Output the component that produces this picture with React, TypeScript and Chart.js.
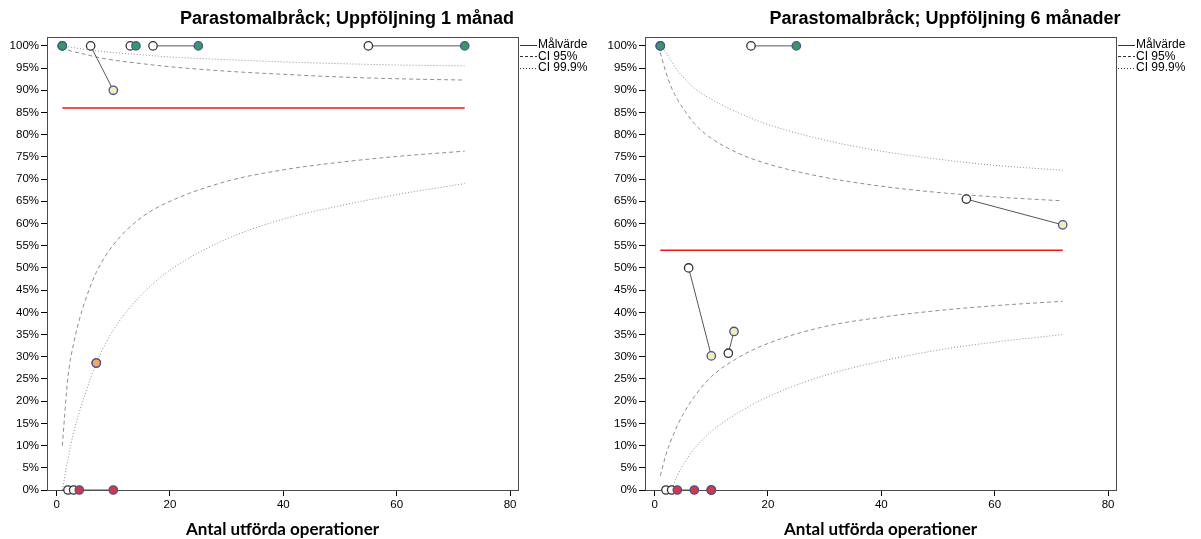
import React, { useEffect, useRef } from "react";
import { Chart, registerables } from "chart.js";

Chart.register(...registerables);

const FONT = "'Liberation Sans', Arial, sans-serif";

const chartTitles = ["Parastomalbråck; Uppföljning 1 månad", "Parastomalbråck; Uppföljning 6 månader"];
const xAxisTitle = "Antal utförda operationer";
const legendLabels = ["Målvärde", "CI 95%", "CI 99.9%"];
const xTickValues = [0, 20, 40, 60, 80];
const yTickValues = [0, 5, 10, 15, 20, 25, 30, 35, 40, 45, 50, 55, 60, 65, 70, 75, 80, 85, 90, 95, 100];

// CI curve sample points (number of operations)
const ciN = [1, 2, 3, 4, 5, 7, 10, 15, 20, 30, 40, 50, 60, 72];
const targetN = [1, 72];

// ---- 1 month ----
const m1Target = 86;
const m1Lower95 = [10, 25.5, 33, 38.3, 42.5, 49, 55.2, 61.4, 65, 69.5, 72.1, 73.8, 75.1, 76.3];
const m1Upper95 = [100, 99.1, 98.7, 98.4, 98.1, 97.5, 96.8, 96, 95.3, 94.3, 93.6, 93, 92.6, 92.3];
const m1Lower999N = [1, 2, 3, 4, 5, 7, 10, 15, 20, 30, 40, 50, 60, 72];
const m1Lower999 = [0, 7, 13, 17.5, 21.5, 28.6, 36, 44, 49.5, 56.5, 61, 64, 66.5, 69];
const m1Upper999 = [100, 99.8, 99.6, 99.4, 99.2, 98.9, 98.5, 98, 97.5, 96.9, 96.4, 96, 95.7, 95.5];
const m1PrevN = [1, 6, 13, 17, 55, 7, 2, 3];
const m1PrevY = [100, 100, 100, 100, 100, 28.6, 0, 0];
const m1CurN = [1, 10, 14, 25, 72, 7, 4, 10];
const m1CurY = [100, 90, 100, 100, 100, 28.6, 0, 0];
const m1Status = ["green", "yellow", "green", "green", "green", "orange", "red", "red"];

// ---- 6 months ----
const m6Target = 54;
const m6Lower95 = [3.2, 8, 11.5, 14.5, 17, 21, 25.5, 30, 33, 36.8, 38.9, 40.4, 41.5, 42.5];
const m6Upper95 = [98.5, 94, 90.5, 88, 86, 82.5, 79.2, 75.7, 73.4, 70.4, 68.4, 67, 66, 65.1];
const m6Lower999N = [3, 4, 5, 7, 10, 15, 20, 30, 40, 50, 60, 72];
const m6Lower999 = [0.3, 3.2, 5.6, 9.3, 13.2, 17.6, 21, 25.8, 29, 31.5, 33.3, 35];
const m6Upper999 = [100, 98.5, 96.5, 94.5, 93, 90.5, 88, 84.8, 82.3, 78.8, 76.3, 74.5, 73.1, 72];
const m6PrevN = [1, 17, 55, 6, 13, 2, 3, 10];
const m6PrevY = [100, 100, 65.5, 50, 30.8, 0, 0, 0];
const m6CurN = [1, 25, 72, 10, 14, 4, 7, 10];
const m6CurY = [100, 100, 59.7, 30.2, 35.7, 0, 0, 0];
const m6Status = ["green", "green", "yellow", "yellow", "yellow", "red", "red", "red"];

const statusFill: Record<string, string> = {
  green: "#349a63",
  yellow: "#f3efb0",
  orange: "#f3a955",
  red: "#d23a3f",
};

type Cfg = {
  title: string;
  target: number;
  lower95: number[];
  upper95: number[];
  lower999N: number[];
  lower999: number[];
  upper999: number[];
  prevN: number[];
  prevY: number[];
  curN: number[];
  curY: number[];
  status: string[];
};

const configs: Cfg[] = [
  {
    title: chartTitles[0], target: m1Target, lower95: m1Lower95, upper95: m1Upper95,
    lower999N: m1Lower999N, lower999: m1Lower999, upper999: m1Upper999,
    prevN: m1PrevN, prevY: m1PrevY, curN: m1CurN, curY: m1CurY, status: m1Status,
  },
  {
    title: chartTitles[1], target: m6Target, lower95: m6Lower95, upper95: m6Upper95,
    lower999N: m6Lower999N, lower999: m6Lower999, upper999: m6Upper999,
    prevN: m6PrevN, prevY: m6PrevY, curN: m6CurN, curY: m6CurY, status: m6Status,
  },
];

const pts = (xs: number[], ys: number[]) => xs.map((x, i) => ({ x, y: ys[i] }));

function makePlugins(title: string) {
  return [
    {
      id: "frame",
      beforeDatasetsDraw(chart: any) {
        const { ctx, chartArea: a } = chart;
        ctx.save();
        ctx.strokeStyle = "#4a4a4a";
        ctx.lineWidth = 1;
        ctx.strokeRect(Math.round(a.left) + 0.5, Math.round(a.top) + 0.5, Math.round(a.right - a.left), Math.round(a.bottom - a.top));
        ctx.restore();
      },
    },
    {
      id: "titleAndLegend",
      afterDraw(chart: any) {
        const { ctx, chartArea: a } = chart;
        ctx.save();
        ctx.fillStyle = "#000";
        ctx.font = `bold 18px ${FONT}`;
        ctx.textAlign = "center";
        ctx.textBaseline = "middle";
        ctx.fillText(title, 347, 19);

        const dashes = [[], [3, 2], [1, 2]];
        const rowsY = [44.5, 56, 67.5];
        const x0 = a.right + 2;
        ctx.font = `12px ${FONT}`;
        ctx.textAlign = "left";
        legendLabels.forEach((lbl, i) => {
          ctx.beginPath();
          ctx.setLineDash(dashes[i]);
          ctx.strokeStyle = "#333";
          ctx.lineWidth = 1;
          ctx.moveTo(x0, Math.round(rowsY[i]) + 0.5);
          ctx.lineTo(x0 + 17, Math.round(rowsY[i]) + 0.5);
          ctx.stroke();
          ctx.setLineDash([]);
          ctx.fillStyle = "#000";
          ctx.fillText(lbl, x0 + 18, rowsY[i] + 0.5);
        });
        ctx.restore();
      },
    },
  ];
}

function FunnelChart({ cfg, left }: { cfg: Cfg; left: number }) {
  const ref = useRef<HTMLCanvasElement>(null);
  useEffect(() => {
    if (!ref.current) return;
    const ciStyle = {
      borderColor: "#8e8e8e",
      borderWidth: 1,
      pointRadius: 0,
      showLine: true,
      cubicInterpolationMode: "monotone" as const,
      order: 6,
    };
    const datasets: any[] = [
      { ...ciStyle, data: pts(ciN, cfg.lower95), borderDash: [4, 3] },
      { ...ciStyle, data: pts(ciN, cfg.upper95), borderDash: [4, 3] },
      { ...ciStyle, data: pts(cfg.lower999N, cfg.lower999), borderDash: [1, 2] },
      { ...ciStyle, data: pts(ciN, cfg.upper999), borderDash: [1, 2] },
      {
        data: pts(targetN, targetN.map(() => cfg.target)),
        borderColor: "#f2161b",
        borderWidth: 1.6,
        pointRadius: 0,
        showLine: true,
        order: 5,
      },
    ];
    cfg.prevN.forEach((n, i) => {
      datasets.push({
        data: [{ x: n, y: cfg.prevY[i] }, { x: cfg.curN[i], y: cfg.curY[i] }],
        borderColor: "#555",
        borderWidth: 1,
        pointRadius: 0,
        showLine: true,
        order: 4,
        clip: false,
      });
    });
    datasets.push({
      data: pts(cfg.prevN, cfg.prevY),
      backgroundColor: "#ffffff",
      borderColor: "#333",
      borderWidth: 1.3,
      pointRadius: 4.2,
      showLine: false,
      order: 3,
      clip: false,
    });
    datasets.push({
      data: pts(cfg.curN, cfg.curY),
      backgroundColor: cfg.status.map((s) => statusFill[s]),
      borderColor: "#4d4f9e",
      borderWidth: 1.3,
      pointRadius: 4.2,
      showLine: false,
      order: 2,
      clip: false,
    });

    const tickFont = { family: FONT, size: 11.5 };
    const chart = new Chart(ref.current, {
      type: "scatter",
      data: { datasets },
      options: {
        animation: false,
        responsive: false,
        events: [],
        layout: { padding: { top: 37, right: 82, left: 0, bottom: 0 } },
        plugins: { legend: { display: false }, tooltip: { enabled: false }, title: { display: false } },
        scales: {
          x: {
            type: "linear",
            min: -1.7,
            max: 81.4,
            afterBuildTicks: (s: any) => {
              s.ticks = xTickValues.map((v) => ({ value: v }));
            },
            afterFit: (s: any) => {
              s.height = 49;
            },
            grid: { display: true, drawOnChartArea: false, drawTicks: true, tickLength: 6, color: "#000", lineWidth: 1 },
            border: { display: true, color: "#000", width: 1 },
            ticks: { font: tickFont, color: "#000", padding: 2, maxRotation: 0, autoSkip: false },
            title: {
              display: true,
              text: xAxisTitle,
              font: { family: "Lato, 'Open Sans', sans-serif", size: 17, weight: "bold" },
              color: "#000",
              padding: { top: 4, bottom: -1 },
            },
          },
          y: {
            type: "linear",
            min: 0,
            max: 102,
            afterBuildTicks: (s: any) => {
              s.ticks = yTickValues.map((v) => ({ value: v }));
            },
            afterFit: (s: any) => {
              s.width = 47;
            },
            grid: { display: true, drawOnChartArea: false, drawTicks: true, tickLength: 6, color: "#000", lineWidth: 1 },
            border: { display: true, color: "#000", width: 1 },
            ticks: { font: tickFont, color: "#000", padding: 2, autoSkip: false, callback: (v: any) => `${v}%` },
          },
        },
      } as any,
      plugins: makePlugins(cfg.title) as any,
    });
    return () => chart.destroy();
  }, [cfg]);
  return (
    <canvas
      ref={ref}
      width={600}
      height={539}
      style={{ position: "absolute", left, top: 0, width: 600, height: 539 }}
    />
  );
}

export default function App() {
  return (
    <div style={{ position: "fixed", left: 0, top: 0, width: 1201, height: 539, background: "#fff", overflow: "hidden" }}>
      <FunnelChart cfg={configs[0]} left={0} />
      <FunnelChart cfg={configs[1]} left={598} />
    </div>
  );
}
